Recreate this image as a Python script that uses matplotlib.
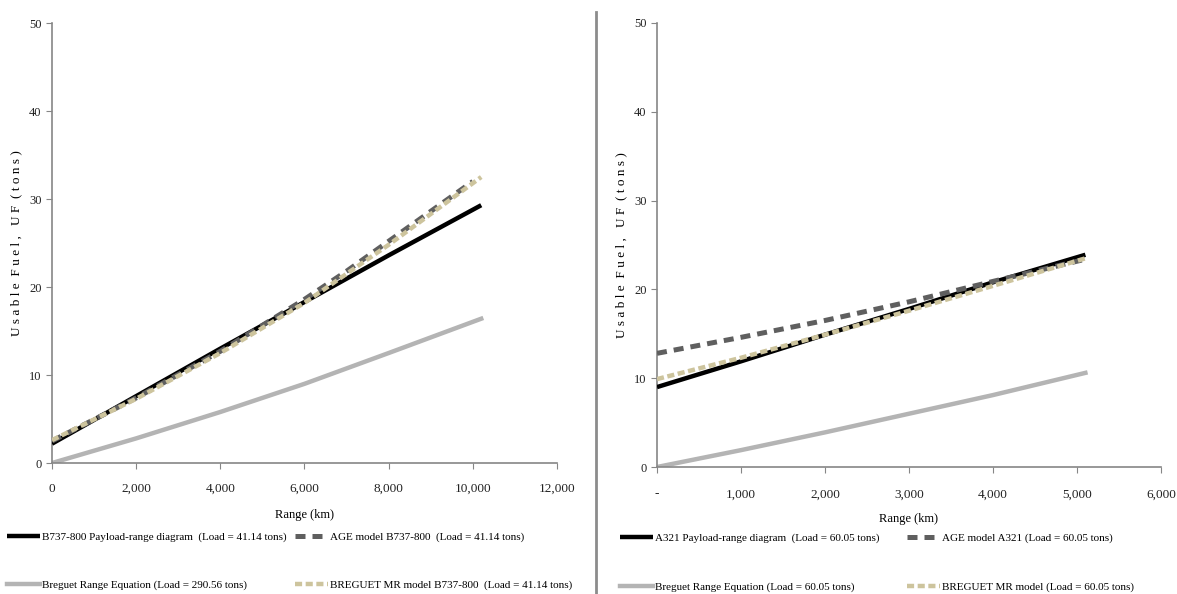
import matplotlib.pyplot as plt
from matplotlib.lines import Line2D
from matplotlib.ticker import FuncFormatter

# B737-800 panel
b737_range = [0, 2000, 4000, 6000, 8000, 10200]
b737_payload = [2.2, 7.6, 13.0, 18.3, 23.6, 29.3]
b737_age_range = [0, 2000, 4000, 6000, 7000, 8000, 9000, 10000]
b737_age = [2.5, 7.4, 12.7, 18.6, 21.8, 25.2, 28.6, 32.0]
b737_breguet = [0.0, 2.8, 5.8, 9.0, 12.5, 16.4]
b737_mr = [2.6, 7.3, 12.5, 18.2, 24.8, 32.5]

# A321 panel
a321_range = [0, 1000, 2000, 3000, 4000, 5100]
a321_payload = [9.0, 11.9, 14.9, 17.8, 20.8, 23.9]
a321_age = [12.8, 14.6, 16.5, 18.6, 20.9, 23.4]
a321_breguet = [0.0, 1.9, 3.9, 6.0, 8.1, 10.6]
a321_mr = [9.9, 12.3, 14.9, 17.6, 20.4, 23.5]

b737_labels = ['B737-800 Payload-range diagram  (Load = 41.14 tons)',
               'Breguet Range Equation (Load = 290.56 tons)',
               'AGE model B737-800  (Load = 41.14 tons)',
               'BREGUET MR model B737-800  (Load = 41.14 tons)']
a321_labels = ['A321 Payload-range diagram  (Load = 60.05 tons)',
               'Breguet Range Equation (Load = 60.05 tons)',
               'AGE model A321 (Load = 60.05 tons)',
               'BREGUET MR model (Load = 60.05 tons)']

FONT = 'Liberation Serif'
AXC = '#868686'
C_BLACK = '#000000'
C_AGE = '#5f5f5f'
C_BRG = '#b4b4b4'
C_MR = '#cdc49d'

W, H = 1177, 594

plt.rcParams['font.family'] = FONT

fig = plt.figure(figsize=(W / 100, H / 100), dpi=100)
ax1 = fig.add_axes([0.0442, 0.2205, 0.429, 0.7407])
ax2 = fig.add_axes([0.5582, 0.2138, 0.4282, 0.7475])


def style(ax, xmax, xstep, dash_zero):
    for s in ['top', 'right']:
        ax.spines[s].set_visible(False)
    for s in ['left', 'bottom']:
        ax.spines[s].set_color(AXC)
        ax.spines[s].set_linewidth(1.2)
    ax.set_xlim(0, xmax)
    ax.set_ylim(0, 50)
    ax.set_xticks(range(0, xmax + 1, xstep))
    ax.set_yticks(range(0, 51, 10))
    ax.tick_params(colors=AXC, labelcolor='#222222', labelsize=9.5, length=4)
    ax.tick_params(axis='y', labelsize=9)
    if dash_zero:
        fmt = FuncFormatter(lambda v, p: '-' if v == 0 else '{:,.0f}'.format(v))
    else:
        fmt = FuncFormatter(lambda v, p: '{:,.0f}'.format(v))
    ax.xaxis.set_major_formatter(fmt)
    ax.set_xlabel('Range (km)', fontsize=9)
    ax.set_ylabel('U s a b l e  F u e l ,   U F  ( t o n s )', fontsize=9.5)


def draw(ax, x, payload, xa, age, brg, mr):
    h1, = ax.plot(x, payload, color=C_BLACK, lw=3.2, solid_capstyle='butt', zorder=3)
    h2, = ax.plot(x, brg, color=C_BRG, lw=3.2, zorder=2)
    h3, = ax.plot(xa, age, color=C_AGE, lw=3.6, dashes=(2.0, 1.4), zorder=4)
    h4, = ax.plot(x, mr, color=C_MR, lw=3.2, dashes=(1.6, 0.8), zorder=5)
    return [h1, h2, h3, h4]


style(ax1, 12000, 2000, False)
style(ax2, 6000, 1000, True)
ax1.tick_params(axis='x', pad=10.5)
ax2.tick_params(axis='x', pad=11.5)

ax1.yaxis.set_label_coords(-0.058, 0.5)
ax2.yaxis.set_label_coords(-0.058, 0.5)
ax1.xaxis.set_label_coords(0.5, -0.105)
ax2.xaxis.set_label_coords(0.5, -0.104)

hs1 = draw(ax1, b737_range, b737_payload, b737_age_range, b737_age, b737_breguet, b737_mr)
hs2 = draw(ax2, a321_range, a321_payload, a321_range, a321_age, a321_breguet, a321_mr)

# legend entries placed one by one: (x px, y px) of each handle start
spots1 = [(7, 537), (7, 585), (295, 537), (295, 585)]
spots2 = [(620, 538), (620, 587), (907, 538), (907, 587)]
for hs, labels, spots in [(hs1, b737_labels, spots1), (hs2, a321_labels, spots2)]:
    for h, lab, (px, py) in zip(hs, labels, spots):
        fig.legend([h], [lab], loc='center left', bbox_to_anchor=(px / W, 1 - py / H),
                   frameon=False, fontsize=8.0, handlelength=2.95, handletextpad=0.2,
                   borderpad=0, borderaxespad=0)

# divider between the two panels
fig.add_artist(Line2D([596 / W, 596 / W], [0.0, 1 - 12 / H], transform=fig.transFigure,
                      color='#8c8c8c', lw=2))

fig.savefig('out.png', dpi=100)
